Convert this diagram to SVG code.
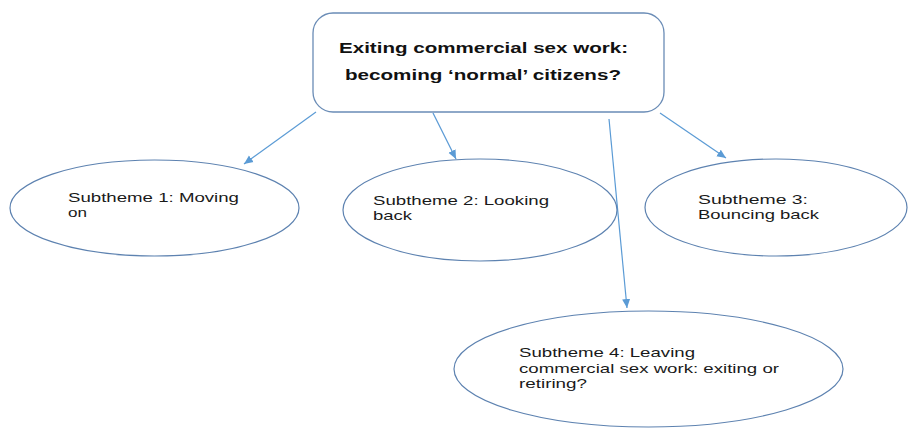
<svg xmlns="http://www.w3.org/2000/svg" width="908" height="428" viewBox="0 0 908 428">
<style>
.box{fill:#fff;stroke:#6a8cb6;stroke-width:1.3}
.ell{fill:#fff;stroke:#5d82b0;stroke-width:1.2}
.t{font-family:"Liberation Sans",Arial,sans-serif;font-size:13.5px;fill:#1a1a1a}
.tb{font-family:"Liberation Sans",Arial,sans-serif;font-size:15.5px;font-weight:bold;fill:#111}
.con{stroke:#5b9bd5;stroke-width:1.2;fill:none;marker-end:url(#ah)}
</style>
<defs>
<marker id="ah" markerWidth="10" markerHeight="10" refX="9" refY="5" orient="auto" markerUnits="userSpaceOnUse">
<path d="M0,1 L9,5 L0,9 Z" fill="#5b9bd5"/>
</marker>
</defs>
<rect width="908" height="428" fill="#fff"/>
<g id="connectors">
<line class="con" x1="316" y1="112" x2="244" y2="164"/>
<line class="con" x1="433" y1="113" x2="456" y2="159"/>
<line class="con" x1="660" y1="113" x2="726" y2="158"/>
<line class="con" x1="609" y1="119" x2="627" y2="308"/>
</g>
<g id="main">
<rect class="box" x="313" y="13" width="351" height="99" rx="20" ry="20"/>
<text class="tb" x="339" y="53" textLength="289" lengthAdjust="spacingAndGlyphs">Exiting commercial sex work:</text>
<text class="tb" x="345" y="80" textLength="276" lengthAdjust="spacingAndGlyphs">becoming ‘normal’ citizens?</text>
</g>
<g id="sub1">
<ellipse class="ell" cx="154.5" cy="208" rx="144.5" ry="48"/>
<text class="t" x="68" y="201.5" textLength="171" lengthAdjust="spacingAndGlyphs">Subtheme 1: Moving</text>
<text class="t" x="68" y="216.5" textLength="19" lengthAdjust="spacingAndGlyphs">on</text>
</g>
<g id="sub2">
<ellipse class="ell" cx="480" cy="210" rx="137" ry="51"/>
<text class="t" x="373" y="205" textLength="176" lengthAdjust="spacingAndGlyphs">Subtheme 2: Looking</text>
<text class="t" x="373" y="220" textLength="39" lengthAdjust="spacingAndGlyphs">back</text>
</g>
<g id="sub3">
<ellipse class="ell" cx="776" cy="207.5" rx="131" ry="48.5"/>
<text class="t" x="698" y="204" textLength="110" lengthAdjust="spacingAndGlyphs">Subtheme 3:</text>
<text class="t" x="698" y="219" textLength="121" lengthAdjust="spacingAndGlyphs">Bouncing back</text>
</g>
<g id="sub4">
<ellipse class="ell" cx="648.5" cy="369" rx="194.5" ry="58"/>
<text class="t" x="519" y="357" textLength="176" lengthAdjust="spacingAndGlyphs">Subtheme 4: Leaving</text>
<text class="t" x="519" y="372.5" textLength="260" lengthAdjust="spacingAndGlyphs">commercial sex work: exiting or</text>
<text class="t" x="519" y="388" textLength="68" lengthAdjust="spacingAndGlyphs">retiring?</text>
</g>
</svg>
